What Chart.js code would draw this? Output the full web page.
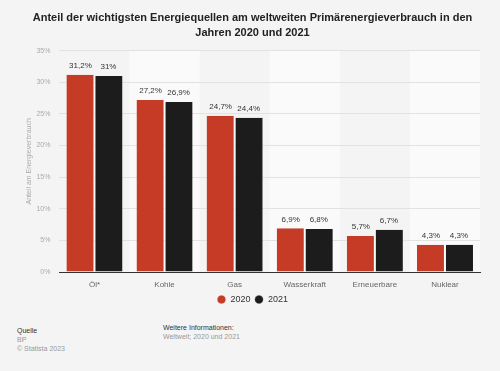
<!DOCTYPE html>
<html>
<head>
<meta charset="utf-8">
<script src="https://cdn.jsdelivr.net/npm/chart.js@4/dist/chart.umd.min.js"></script>
<style>
  body { margin: 0; background: #f4f4f4; font-family: "Liberation Sans", Arial, sans-serif; }
  #wrap { position: relative; width: 500px; height: 371px; }
  .foot { position: absolute; font-size: 7px; line-height: 9px; color: #999; }
  .foot b { font-weight: normal; color: #333; }
</style>
</head>
<body>
<div id="wrap">
  <canvas id="energyChart" width="500" height="314"></canvas>
  <div class="foot" style="left:17px; top:326px;"><b>Quelle</b><br>BP<br>© Statista 2023</div>
  <div class="foot" style="left:163px; top:323px;"><b>Weitere Informationen:</b><br>Weltweit; 2020 und 2021</div>
</div>
<script>
const categories = ['Öl*', 'Kohle', 'Gas', 'Wasserkraft', 'Erneuerbare', 'Nuklear'];
const values2020 = [31.2, 27.2, 24.7, 6.9, 5.7, 4.3];
const values2021 = [31, 26.9, 24.4, 6.8, 6.7, 4.3];
const yTicks = [0, 5, 10, 15, 20, 25, 30, 35];

const fmt = v => String(v).replace('.', ',') + '%';

// abwechselnde Spaltenhintergründe
const bandPlugin = {
    id: 'bands',
    beforeDraw(chart) {
        const { ctx, chartArea, scales } = chart;
        const x = scales.x;
        const w = x.getPixelForValue(1) - x.getPixelForValue(0);
        ctx.save();
        ctx.fillStyle = '#fafafa';
        for (let i = 1; i < categories.length; i += 2) {
            const c = x.getPixelForValue(i);
            ctx.fillRect(c - w / 2, chartArea.top, w, chartArea.bottom - chartArea.top);
        }
        ctx.restore();
    }
};

// Werte über den Balken
const labelPlugin = {
    id: 'valueLabels',
    afterDatasetsDraw(chart) {
        const { ctx } = chart;
        ctx.save();
        ctx.font = '8px "Liberation Sans", Arial, sans-serif';
        ctx.fillStyle = '#333';
        ctx.textAlign = 'center';
        ctx.textBaseline = 'bottom';
        chart.data.datasets.forEach((ds, di) => {
            chart.getDatasetMeta(di).data.forEach((bar, i) => {
                ctx.fillText(fmt(ds.data[i]), bar.x, bar.y - 5);
            });
        });
        ctx.restore();
    }
};

const energyCtx = document.getElementById('energyChart').getContext('2d');
const energyChart = new Chart(energyCtx, {
    type: 'bar',
    data: {
        labels: categories,
        datasets: [{
            label: '2020',
            data: values2020,
            backgroundColor: '#c63b26',
            borderColor: '#ffffff',
            borderWidth: { left: 0, right: 1, top: 0, bottom: 0 },
            borderSkipped: false
        }, {
            label: '2021',
            data: values2021,
            backgroundColor: '#1c1c1c',
            borderColor: '#ffffff',
            borderWidth: { left: 1, right: 0, top: 0, bottom: 0 },
            borderSkipped: false
        }]
    },
    options: {
        responsive: false,
        animation: false,
        layout: { padding: { left: 25, right: 20, top: 0, bottom: 0 } },
        datasets: { bar: { categoryPercentage: 0.8, barPercentage: 1 } },
        plugins: {
            title: {
                display: true,
                text: ['Anteil der wichtigsten Energiequellen am weltweiten Primärenergieverbrauch in den', 'Jahren 2020 und 2021'],
                color: '#222',
                font: { family: '"Liberation Sans", Arial, sans-serif', size: 11, weight: 'bold', lineHeight: 1.35 },
                padding: { top: 11, bottom: 10 }
            },
            legend: {
                position: 'bottom',
                labels: {
                    usePointStyle: true,
                    pointStyle: 'circle',
                    boxWidth: 9,
                    boxHeight: 6,
                    color: '#333',
                    font: { family: '"Liberation Sans", Arial, sans-serif', size: 9 },
                    padding: 4
                }
            },
            tooltip: { enabled: false }
        },
        scales: {
            x: {
                grid: { display: false, drawTicks: false },
                border: { display: true, color: '#333', width: 1 },
                ticks: { color: '#666', font: { family: '"Liberation Sans", Arial, sans-serif', size: 8 }, padding: 8 },
                afterFit: axis => { axis.height = 19; }
            },
            y: {
                min: 0,
                max: 35,
                afterBuildTicks: axis => { axis.ticks = yTicks.map(v => ({ value: v })); },
                afterFit: axis => { axis.width -= 6; },
                grid: { color: '#e2e2e2', drawTicks: false },
                border: { display: false },
                ticks: { color: '#aaa', font: { family: '"Liberation Sans", Arial, sans-serif', size: 7 }, padding: 9, callback: v => v + '%' },
                title: { display: true, text: 'Anteil am Energieverbrauch', color: '#aaa', font: { family: '"Liberation Sans", Arial, sans-serif', size: 7 }, padding: 0 }
            }
        }
    },
    plugins: [bandPlugin, labelPlugin]
});
</script>
</body>
</html>
